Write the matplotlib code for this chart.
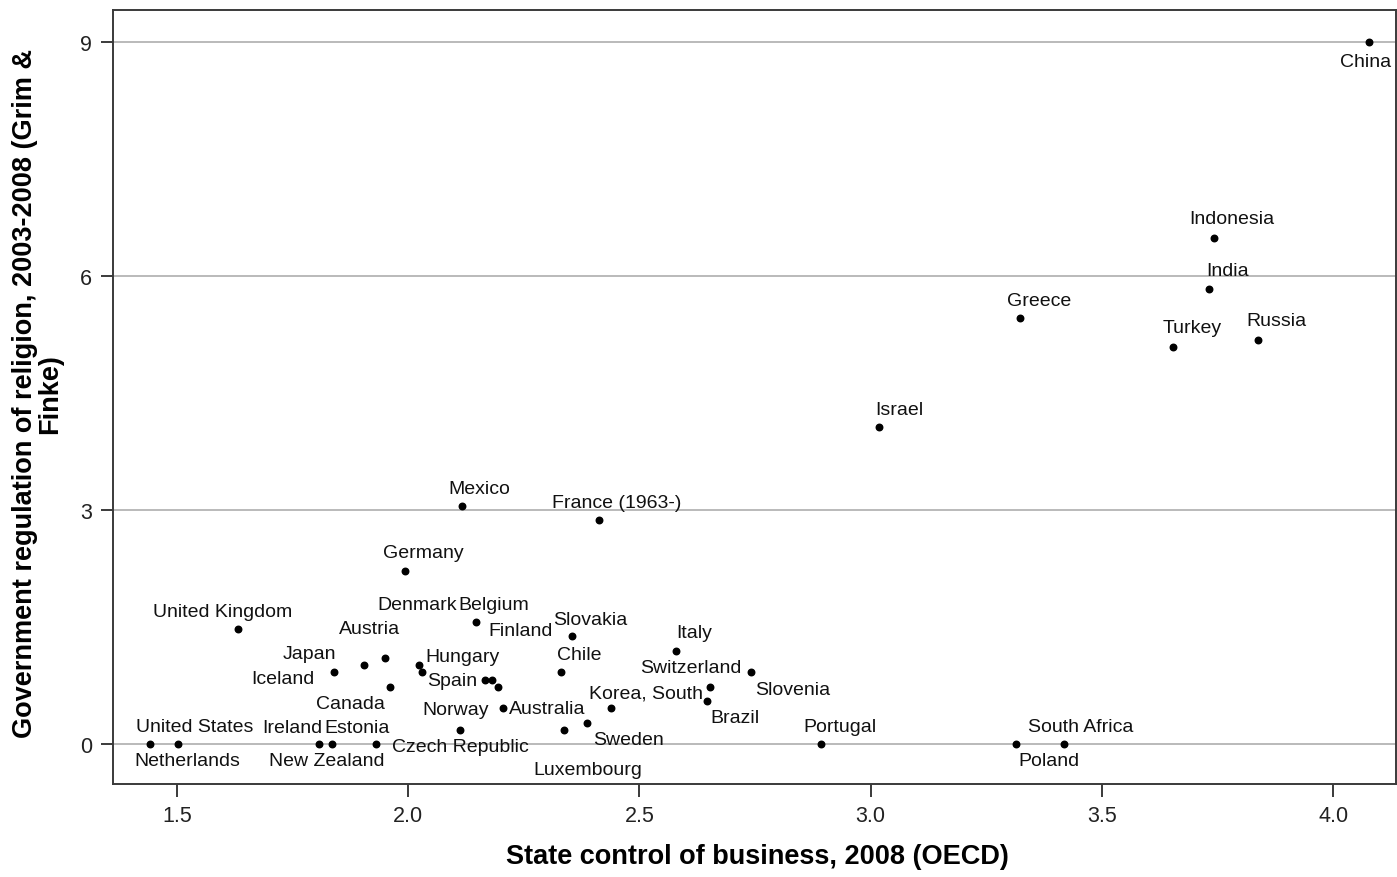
import matplotlib
matplotlib.use("Agg")
import matplotlib.pyplot as plt

plt.rcParams['font.family'] = ['Liberation Sans', 'DejaVu Sans']

# state control of business (OECD 2008) vs. regulation of religion (Grim & Finke)
countries = ["China", "Indonesia", "India", "Greece", "Turkey", "Russia", "Israel",
             "Mexico", "France (1963-)", "Germany", "United Kingdom", "Denmark",
             "Belgium", "Finland", "Slovakia", "Austria", "Italy", "Japan", "Hungary",
             "Chile", "Switzerland", "Iceland", "Spain", "Slovenia", "Canada",
             "Korea, South", "Brazil", "Norway", "Australia", "Portugal",
             "South Africa", "United States", "Ireland", "Estonia", "Czech Republic",
             "Sweden", "Netherlands", "New Zealand", "Poland", "Luxembourg"]
state_control = [4.078, 3.743, 3.732, 3.323, 3.654, 3.838, 3.018,
                 2.116, 2.413, 1.993, 1.632, 2.166,
                 2.147, 2.181, 2.354, 1.950, 2.579, 1.904, 2.023,
                 2.330, 2.653, 1.840, 2.030, 2.741, 1.961,
                 2.439, 2.646, 2.194, 2.205, 2.893,
                 3.418, 1.502, 1.807, 1.930, 2.112,
                 2.387, 1.442, 1.835, 3.314, 2.337]
regulation = [9.00, 6.49, 5.83, 5.46, 5.09, 5.18, 4.06,
              3.05, 2.87, 2.22, 1.47, 0.82,
              1.56, 0.82, 1.38, 1.10, 1.19, 1.01, 1.01,
              0.92, 0.73, 0.92, 0.92, 0.92, 0.73,
              0.46, 0.55, 0.73, 0.46, 0.00,
              0.00, 0.00, 0.00, 0.00, 0.18,
              0.27, 0.00, 0.00, 0.00, 0.18]

# label placement relative to each dot, in pixels (right, down)
label_dx = [-4, 18, 18, 19, 19, 18, 20,
            18, 18, 18, -15, -68,
            18, 29, 18, -15, 18, -54, 44,
            19, -19, -51, 30, 42, -40,
            35, 28, -42, 44, 19,
            17, 17, -27, -19, 0,
            41, 37, -5, 33, 24]
label_dy = [20, -19, -19, -18, -19, -19, -18,
            -18, -18, -18, -18, -76,
            -18, -50, -17, -30, -19, -12, -9,
            -18, -20, 6, 8, 17, 16,
            -15, 16, 22, 0, -17,
            -17, -17, -16, -16, 17,
            17, 17, 17, 17, 40]

W, H, DPI = 1397, 878, 100
fig = plt.figure(figsize=(W / DPI, H / DPI), dpi=DPI)
ax = fig.add_axes([113 / W, 1 - 785 / H, (W - 114) / W, (785 - 11) / H])

ax.set_xlim(1.362, 4.136)
ax.set_ylim(-0.513, 9.41)

ax.set_yticks([0, 3, 6, 9])
ax.set_xticks([1.5, 2.0, 2.5, 3.0, 3.5, 4.0])
ax.set_xticklabels(["1.5", "2.0", "2.5", "3.0", "3.5", "4.0"])
ax.yaxis.grid(True, color="#b4b4b4", linewidth=1.3)
ax.set_axisbelow(True)

for s in ax.spines.values():
    s.set_color("#3a3a3a")
    s.set_linewidth(1.4)
ax.tick_params(axis="both", direction="out", length=9, width=1.4,
               color="#3a3a3a", labelsize=15.5, labelcolor="#222222", pad=6)

ax.scatter(state_control, regulation, s=22, color="black", zorder=3)

px = 72 / DPI
for name, x, y, dx, dy in zip(countries, state_control, regulation, label_dx, label_dy):
    ax.annotate(name, (x, y), xytext=(dx * px, -dy * px), textcoords="offset points",
                ha="center", va="center", fontsize=14, color="#111111")

fig.text(757 / W, 1 - 857 / H, "State control of business, 2008 (OECD)",
         ha="center", va="center", fontsize=19.5, fontweight="bold")
fig.text(38 / W, 1 - 394 / H, "Government regulation of religion, 2003-2008 (Grim &\nFinke)",
         ha="center", va="center", rotation=90, fontsize=19.5, fontweight="bold",
         multialignment="center", linespacing=0.95)

fig.savefig("out.png", dpi=DPI)
